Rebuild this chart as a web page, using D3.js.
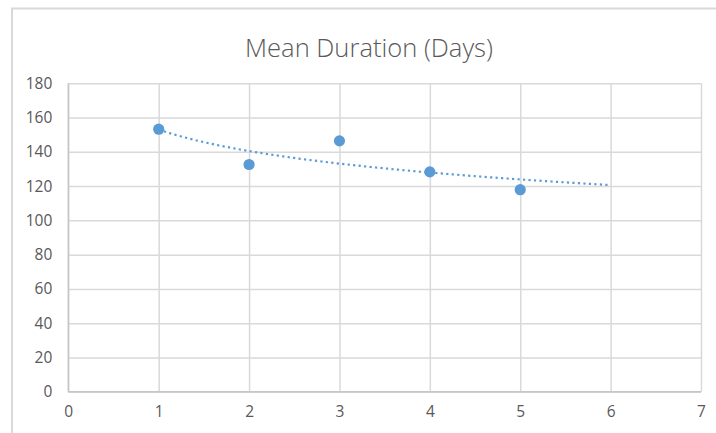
<!DOCTYPE html>
<html>
<head>
<meta charset="utf-8">
<script src="https://cdn.jsdelivr.net/npm/d3@7"></script>
<style>
  html, body { margin: 0; padding: 0; background: #fff; }
  svg { display: block; }
  text { font-family: "Open Sans", "Liberation Sans", sans-serif; fill: #595959; }
</style>
</head>
<body>
<svg id="chart" width="716" height="433"></svg>
<script>
// Period number and mean duration in days
const periods = [1, 2, 3, 4, 5];
const meanDays = [153.2, 132.6, 146.4, 128.3, 117.9];
const xTicks = [0, 1, 2, 3, 4, 5, 6, 7];
const yTicks = [0, 20, 40, 60, 80, 100, 120, 140, 160, 180];
const trendForwardTo = 6;   // log trendline extended one period forward
const titleText = "Mean Duration (Days)";

const svg = d3.select("#chart");
const W = 716, H = 433;
const plot = { left: 68.3, right: 701, top: 83.3, bottom: 391.7 };

const x = d3.scaleLinear().domain([0, 7]).range([plot.left, plot.right]);
const y = d3.scaleLinear().domain([0, 180]).range([plot.bottom, plot.top]);

// chart-area frame (left and top edges visible)
svg.append("path")
  .attr("d", `M12,${H + 5} V8.5 H${W + 5}`)
  .attr("fill", "none")
  .attr("stroke", "#d9d9d9")
  .attr("stroke-width", 2);

// horizontal gridlines + y labels
const yAxis = svg.append("g")
  .attr("transform", `translate(${plot.left},0)`)
  .call(d3.axisLeft(y).tickValues(yTicks).tickFormat(d3.format("d"))
    .tickSize(-(plot.right - plot.left)).tickPadding(16));
yAxis.select(".domain").remove();
yAxis.selectAll(".tick line").attr("stroke", "#d9d9d9").attr("stroke-width", 1.5);
yAxis.selectAll(".tick text").style("font-size", "15.5px").attr("fill", "#595959");

// vertical gridlines + x labels
const xAxis = svg.append("g")
  .attr("transform", `translate(0,${plot.bottom})`)
  .call(d3.axisBottom(x).tickValues(xTicks).tickFormat(d3.format("d"))
    .tickSize(-(plot.bottom - plot.top)).tickPadding(14));
xAxis.select(".domain").remove();
xAxis.selectAll(".tick line").attr("stroke", "#d9d9d9").attr("stroke-width", 1.5);
xAxis.selectAll(".tick text").style("font-size", "15.5px").attr("fill", "#595959");

// axis lines
svg.append("line")
  .attr("x1", x(0)).attr("x2", x(7)).attr("y1", y(0)).attr("y2", y(0))
  .attr("stroke", "#c6c6c6").attr("stroke-width", 1.5);
svg.append("line")
  .attr("x1", x(0)).attr("x2", x(0)).attr("y1", y(0)).attr("y2", y(180))
  .attr("stroke", "#c6c6c6").attr("stroke-width", 1.5);

// logarithmic least-squares trendline: y = a ln(x) + b
const lx = periods.map(Math.log);
const mx = d3.mean(lx), my = d3.mean(meanDays);
const sxy = d3.sum(lx, (v, i) => (v - mx) * (meanDays[i] - my));
const sxx = d3.sum(lx, v => (v - mx) * (v - mx));
const a = sxy / sxx, b = my - a * mx;
const trendX = d3.range(periods[0], trendForwardTo + 0.0001, 0.05);
svg.append("path")
  .datum(trendX)
  .attr("d", d3.line().x(d => x(d)).y(d => y(a * Math.log(d) + b)))
  .attr("fill", "none")
  .attr("stroke", "#5b9bd5")
  .attr("stroke-width", 2.2)
  .attr("stroke-dasharray", "2.2,3.3");

// data markers
svg.append("g").selectAll("circle")
  .data(periods)
  .join("circle")
  .attr("cx", d => x(d))
  .attr("cy", (d, i) => y(meanDays[i]))
  .attr("r", 5.6)
  .attr("fill", "#5b9bd5");

// title
const title = svg.append("text")
  .attr("x", 369).attr("y", 57)
  .attr("text-anchor", "middle")
  .style("font-size", "23px")
  .style("font-weight", 300)
  .text(titleText);
const tw = title.node().getComputedTextLength();
title.style("font-size", (23 * 248 / tw).toFixed(2) + "px");
</script>
</body>
</html>
